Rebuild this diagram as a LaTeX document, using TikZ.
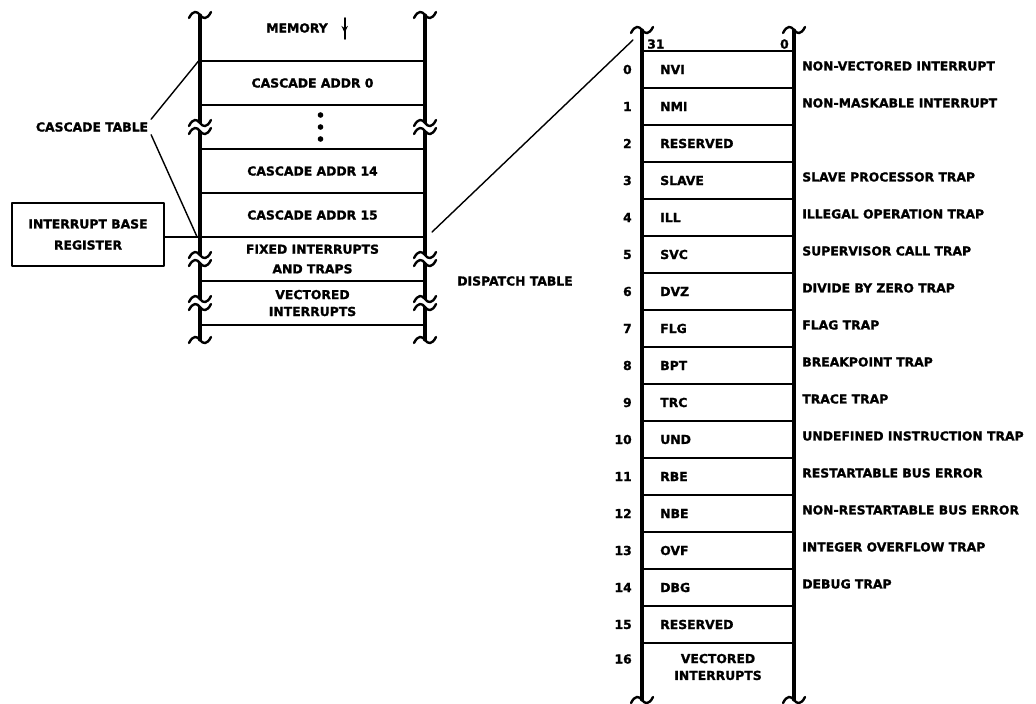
\documentclass[tikz,border=0pt]{standalone}
\usepackage{fontspec}
\setmainfont{DejaVu Sans}[BoldFeatures={FakeBold=1.3}]
\usetikzlibrary{arrows.meta,positioning,calc}

% tilde mark drawn across a wall end, and a broken-wall mark
\newcommand{\squiggle}[1]{%
  \draw[brk, shift={(#1)}] (-11,3) .. controls (-7,-5) and (-3,-4) .. (0,0)
    .. controls (3,4) and (7,5) .. (11,-3);}
\newcommand{\gapmark}[1]{%
  \fill[white, shift={(#1)}] (-4,-4) rectangle (4,4);
  \squiggle{$(#1)+(0,-4)$}\squiggle{$(#1)+(0,4)$}}

\begin{document}
\begin{tikzpicture}[
  x=0.025cm, y=-0.025cm, line cap=round, line join=round,
  font=\fontsize{8.8}{10.5}\selectfont\bfseries,
  cell/.style={draw, line width=1.5pt, minimum width=5.625cm, minimum height=1.1cm,
               inner sep=0pt, outer sep=0pt, align=center},
  slot/.style={draw, line width=1.5pt, minimum width=3.8cm, minimum height=0.925cm,
               inner sep=0pt, outer sep=0pt},
  wall/.style={line width=2.2pt},
  brk/.style={line width=1.7pt},
  lead/.style={line width=1pt},
  mnem/.style={inner sep=0pt},
  idx/.style={inner sep=0pt},
  desc/.style={inner sep=0pt, yshift=2.5pt}]

\useasboundingbox (0,0) rectangle (1036,703);

% ================================================================ memory
\node (mem) at (297,28) {MEMORY};
\draw[line width=1.4pt, -{Stealth[length=5pt, width=4.5pt]}]
  ($(mem.east)+(12,-10)$) -- ($(mem.east)+(12,5)$);
\draw[line width=1.4pt] ($(mem.east)+(12,2)$) -- ($(mem.east)+(12,11)$);

\node[cell] (c0) at (312.5,83) {CASCADE ADDR 0};
\node[cell, below=0pt of c0] (cdots) {};
\node[cell, below=0pt of cdots] (c14) {CASCADE ADDR 14};
\node[cell, below=0pt of c14] (c15) {CASCADE ADDR 15};
\node[cell, below=0pt of c15] (fixed) {FIXED INTERRUPTS\\[3.5pt]AND TRAPS};
\node[cell, below=0pt of fixed] (vect) {VECTORED\\[1.5pt]INTERRUPTS};
\foreach \y in {-12,0,12}
  \fill ($(cdots.center)+(8,\y)$) circle (2.8);

\coordinate (lt) at (200,15);  \coordinate (lb) at (200,340);
\coordinate (rt) at (425,15);  \coordinate (rb) at (425,340);
\draw[wall] (lt) -- (lb);
\draw[wall] (rt) -- (rb);
\foreach \p in {lt,lb,rt,rb}{\squiggle{\p}}
\foreach \n in {cdots,fixed,vect}{
  \gapmark{\n.west}
  \gapmark{\n.east}}

% ---- labels on the left -----------------------------------------------
\node[inner sep=2pt] (ctab) at (92,127) {CASCADE TABLE};
\draw[lead] (ctab.north east) -- ([xshift=-1pt]c0.north west);
\draw[lead] (ctab.south east) -- ([xshift=-2pt]c15.south west);

\node[draw, line width=1.7pt, minimum width=3.8cm, minimum height=1.575cm, align=center]
  (ibr) at (88,234.5) {INTERRUPT BASE\\[4.5pt]REGISTER};
\draw[line width=2pt] (ibr.east |- c15.south west) -- (c15.south west);

\node (dtab) at (515,281) {DISPATCH TABLE};

% ================================================================ dispatch table
\foreach \i/\mn/\txt in {0/NVI/NON-VECTORED INTERRUPT, 1/NMI/NON-MASKABLE INTERRUPT,
    2/RESERVED/, 3/SLAVE/SLAVE PROCESSOR TRAP, 4/ILL/ILLEGAL OPERATION TRAP,
    5/SVC/SUPERVISOR CALL TRAP, 6/DVZ/DIVIDE BY ZERO TRAP, 7/FLG/FLAG TRAP,
    8/BPT/BREAKPOINT TRAP, 9/TRC/TRACE TRAP, 10/UND/UNDEFINED INSTRUCTION TRAP,
    11/RBE/RESTARTABLE BUS ERROR, 12/NBE/NON-RESTARTABLE BUS ERROR,
    13/OVF/INTEGER OVERFLOW TRAP, 14/DBG/DEBUG TRAP, 15/RESERVED/}{
  \node[slot] (r\i) at (718,{69.5+37*\i}) {};
  \node[mnem, right=0.45cm of r\i.west] (m\i) {\mn};
  \node[idx, left=0.25cm of r\i.west] (n\i) {\i};
  \node[desc, right=0.2cm of r\i.east] (d\i) {\txt};
}
\node[align=center, inner sep=0pt] (r16) at (718,667) {VECTORED\\[1.5pt]INTERRUPTS};
\node[idx, anchor=east] (n16) at ($(r15.south west)+(-10,16)$) {16};

\node[anchor=south west, inner sep=0pt] (b31) at ($(r0.north west)+(5,-2)$) {31};
\node[anchor=south east, inner sep=0pt] (b0) at ($(r0.north east)+(-5,-2)$) {0};

\coordinate (dlt) at (642,30);  \coordinate (dlb) at (642,700);
\coordinate (drt) at (794,30);  \coordinate (drb) at (794,700);
\draw[wall] (dlt) -- (dlb);
\draw[wall] (drt) -- (drb);
\foreach \p in {dlt,dlb,drt,drb}{\squiggle{\p}}

% ---- cascade entry 15 points at the dispatch table ----------------------
\draw[lead] ($(c15.south east)+(7,-5)$) -- ($(r0.north west)+(-9,-11)$);

\end{tikzpicture}
\end{document}
